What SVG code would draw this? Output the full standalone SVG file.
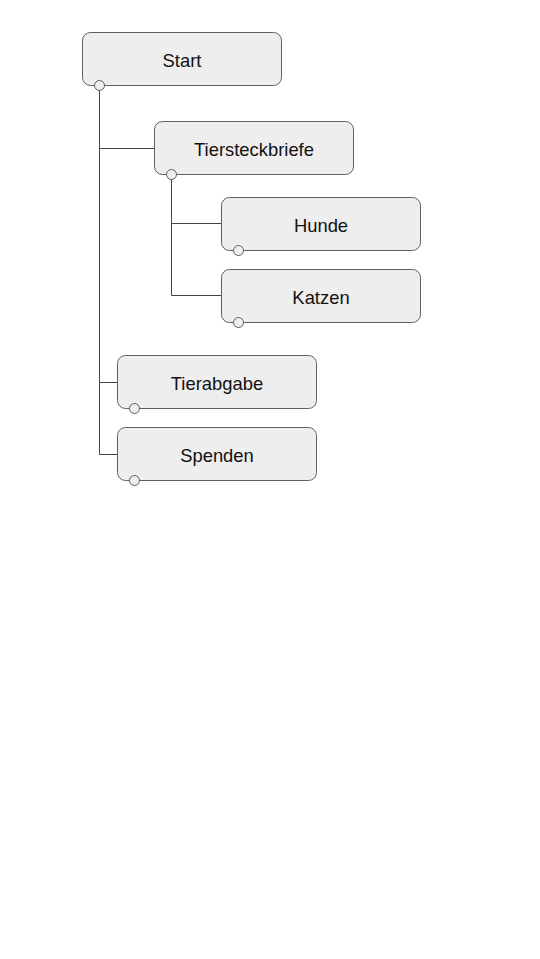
<svg xmlns="http://www.w3.org/2000/svg" width="540" height="959" viewBox="0 0 540 959">
<style>
.box{fill:#eeeeee;stroke:#5f5f5f;stroke-width:1}
.dot{fill:#eeeeee;stroke:#5f5f5f;stroke-width:1}
.lbl{font-family:"Liberation Sans",Arial,sans-serif;font-size:18.4px;fill:#111;text-anchor:middle;dominant-baseline:central}
.con{fill:none;stroke:#444;stroke-width:1}
</style>
<rect width="540" height="959" fill="#ffffff"/>
<g id="connectors">
<path class="con" d="M99.5 90V454.5H117M99.5 148.5H154M99.5 382.5H117"/>
<path class="con" d="M171.5 179V295.5H221M171.5 223.5H221"/>
</g>
<g id="start">
<rect class="box" x="82.5" y="32.5" width="199" height="53" rx="8"/>
<text class="lbl" x="182" y="60">Start</text>
<circle class="dot" cx="99.5" cy="85.5" r="5"/>
</g>
<g id="tiersteckbriefe">
<rect class="box" x="154.5" y="121.5" width="199" height="53" rx="8"/>
<text class="lbl" x="254" y="149">Tiersteckbriefe</text>
<circle class="dot" cx="171.5" cy="174.5" r="5"/>
</g>
<g id="hunde">
<rect class="box" x="221.5" y="197.5" width="199" height="53" rx="8"/>
<text class="lbl" x="321" y="225">Hunde</text>
<circle class="dot" cx="238.5" cy="250.5" r="5"/>
</g>
<g id="katzen">
<rect class="box" x="221.5" y="269.5" width="199" height="53" rx="8"/>
<text class="lbl" x="321" y="297">Katzen</text>
<circle class="dot" cx="238.5" cy="322.5" r="5"/>
</g>
<g id="tierabgabe">
<rect class="box" x="117.5" y="355.5" width="199" height="53" rx="8"/>
<text class="lbl" x="217" y="383">Tierabgabe</text>
<circle class="dot" cx="134.5" cy="408.5" r="5"/>
</g>
<g id="spenden">
<rect class="box" x="117.5" y="427.5" width="199" height="53" rx="8"/>
<text class="lbl" x="217" y="455">Spenden</text>
<circle class="dot" cx="134.5" cy="480.5" r="5"/>
</g>
</svg>
